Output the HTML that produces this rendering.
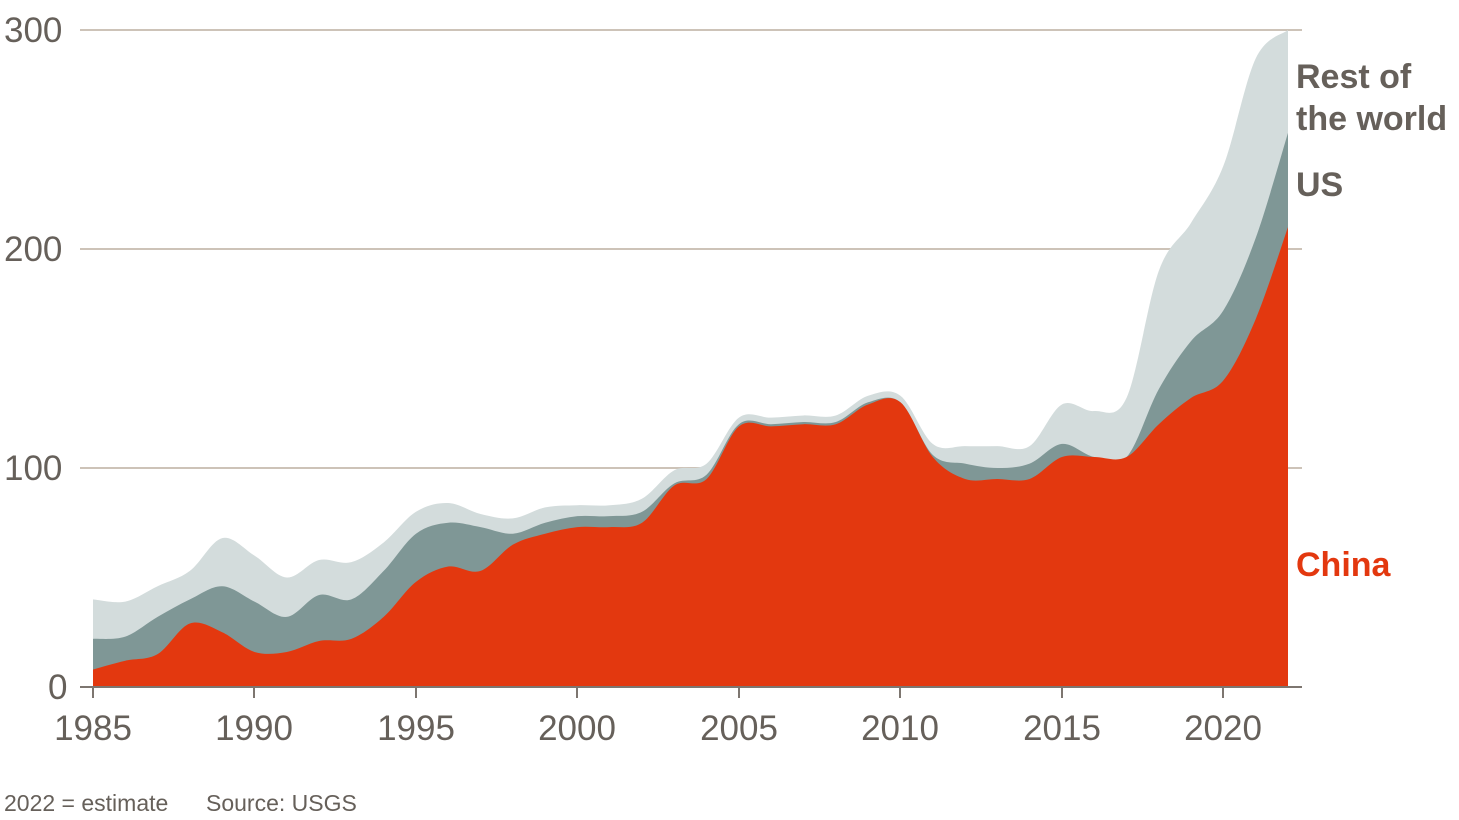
<!DOCTYPE html>
<html><head><meta charset="utf-8"><style>
html,body{margin:0;padding:0;background:#fff;}
svg{display:block;font-family:"Liberation Sans",sans-serif;}
</style></head><body>
<svg id="c" width="1459" height="820" viewBox="0 0 1459 820" xmlns="http://www.w3.org/2000/svg">
<g stroke="#cdc3b8" stroke-width="2">
<line x1="80" y1="30" x2="1302" y2="30"/>
<line x1="80" y1="249" x2="1302" y2="249"/>
<line x1="80" y1="468" x2="1302" y2="468"/>
</g>
<path id="rw" fill="#d3dcdc"/>
<path id="us" fill="#7f9796"/>
<path id="cn" fill="#e3380f"/>
<line x1="80" y1="687" x2="1302" y2="687" stroke="#7d7670" stroke-width="2"/>
<g stroke="#7d7670" stroke-width="2">
<line x1="93" y1="687" x2="93" y2="698"/><line x1="254" y1="687" x2="254" y2="698"/>
<line x1="416" y1="687" x2="416" y2="698"/><line x1="577" y1="687" x2="577" y2="698"/>
<line x1="739" y1="687" x2="739" y2="698"/><line x1="900" y1="687" x2="900" y2="698"/>
<line x1="1062" y1="687" x2="1062" y2="698"/><line x1="1223" y1="687" x2="1223" y2="698"/>
</g>
<g fill="#66605a" font-size="35">
<text x="4" y="42">300</text><text x="4" y="261">200</text><text x="4" y="480">100</text><text x="48" y="699">0</text>
<g text-anchor="middle">
<text x="93" y="740">1985</text><text x="254" y="740">1990</text><text x="416" y="740">1995</text><text x="577" y="740">2000</text>
<text x="739" y="740">2005</text><text x="900" y="740">2010</text><text x="1062" y="740">2015</text><text x="1223" y="740">2020</text>
</g>
<text x="1296" y="88" font-weight="bold" font-size="34">Rest of</text>
<text x="1296" y="130" font-weight="bold" font-size="34">the world</text>
<text x="1296" y="196" font-weight="bold" font-size="34">US</text>
<text x="1296" y="576" font-weight="bold" font-size="34" fill="#e3380f">China</text>
<text x="4" y="811" font-size="23">2022 = estimate</text>
<text x="206" y="811" font-size="23">Source: USGS</text>
</g>
</svg>
<script>
var cn=[8,12,15,29,25,16,16,21,22,32,48,55,53,65,70,73,73,75,92,95,119,119,120,120,129,130,105,95,95,95,105,105,105,120,132,140,168,210];
var us=[22,23,32,40,46,39,32,42,40,53,70,75,73,70,75,78,78,80,93,97,120,120,121,121,130,130,106,102,100,102,111,105,105,136,158,172,205,253];
var tt=[40,39,46,53,68,60,50,58,57,66,80,84,79,77,82,83,83,86,99,102,123,123,124,124,133,133,111,110,110,110,129,126,132,190,212,238,287,300];
function X(i){return 93+i*(1288-93)/37;}
function Y(v){return 687-v*2.19;}
function path(d){
 var p=d.map(function(v,i){return [X(i),Y(v)];});
 var s="M"+X(0)+",687 L"+p[0][0]+","+p[0][1];
 for(var i=0;i<p.length-1;i++){
  var p0=p[i-1]||p[i],p1=p[i],p2=p[i+1],p3=p[i+2]||p[i+1];
  var c1x=p1[0]+(p2[0]-p0[0])/6,c1y=p1[1]+(p2[1]-p0[1])/6;
  var c2x=p2[0]-(p3[0]-p1[0])/6,c2y=p2[1]-(p3[1]-p1[1])/6;
  s+=" C"+c1x+","+c1y+" "+c2x+","+c2y+" "+p2[0]+","+p2[1];
 }
 return s+" L"+X(37)+",687 Z";
}
document.getElementById("rw").setAttribute("d",path(tt));
document.getElementById("us").setAttribute("d",path(us));
document.getElementById("cn").setAttribute("d",path(cn));
</script>
</body></html>
